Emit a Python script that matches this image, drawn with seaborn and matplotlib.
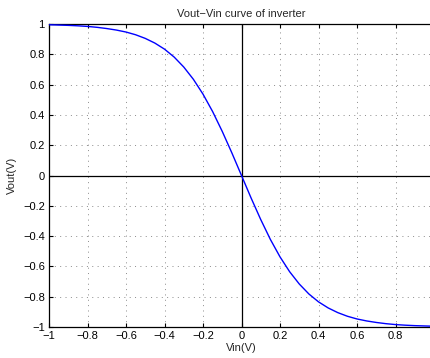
import matplotlib
matplotlib.use("Agg")
import matplotlib.pyplot as plt
import seaborn as sns
import pandas as pd

# Values
vin = [-1.0, -0.95, -0.9, -0.85, -0.8, -0.75, -0.7, -0.65, -0.6, -0.55, -0.5,
       -0.45, -0.4, -0.35, -0.3, -0.25, -0.2, -0.15, -0.1, -0.05, 0.0,
       0.05, 0.1, 0.15, 0.2, 0.25, 0.3, 0.35, 0.4, 0.45, 0.5,
       0.55, 0.6, 0.65, 0.7, 0.75, 0.8, 0.85, 0.9, 0.95, 1.0]
vout = [0.995, 0.993, 0.991, 0.988, 0.984, 0.978, 0.970, 0.960, 0.947, 0.929, 0.905,
        0.874, 0.834, 0.782, 0.716, 0.635, 0.537, 0.422, 0.291, 0.149, 0.0,
        -0.149, -0.291, -0.422, -0.537, -0.635, -0.716, -0.782, -0.834, -0.874, -0.905,
        -0.929, -0.947, -0.960, -0.970, -0.978, -0.984, -0.988, -0.991, -0.993, -0.995]
xticks = [-1, -0.8, -0.6, -0.4, -0.2, 0, 0.2, 0.4, 0.6, 0.8]
yticks = [-1, -0.8, -0.6, -0.4, -0.2, 0, 0.2, 0.4, 0.6, 0.8, 1]

def fmt(v):
    s = ("%g" % v)
    return s.replace("-", "\u2212")

df = pd.DataFrame({"Vin": vin, "Vout": vout})

sns.set_style("white")
plt.rcParams['font.family'] = ['Liberation Sans', 'DejaVu Sans']

fig = plt.figure(figsize=(4.31, 3.58), dpi=100)
W, H = 431, 358
left, right, top, bottom = 49, 434, 24, 327
ax = fig.add_axes([left / W, 1 - bottom / H, (right - left) / W, (bottom - top) / H])

sns.lineplot(data=df, x="Vin", y="Vout", ax=ax, color="#0000ff", linewidth=1.0, zorder=3)

ax.set_xlim(-1, 1)
ax.set_ylim(-1, 1)
ax.set_xticks(xticks)
ax.set_yticks(yticks)
ax.set_xticklabels([fmt(v) for v in xticks], fontsize=8)
ax.set_yticklabels([fmt(v) for v in yticks], fontsize=8)
ax.grid(True, linestyle=(0, (1, 4.5)), color="#8a8a8a", linewidth=0.7)
ax.axhline(0, color="black", linewidth=0.9, zorder=2)
ax.axvline(0, color="black", linewidth=0.9, zorder=2)
ax.tick_params(direction="in", length=3, width=0.8, top=True, right=True,
               bottom=True, left=True, pad=3, colors="black")
for sp in ax.spines.values():
    sp.set_visible(True)
    sp.set_color("black")
    sp.set_linewidth(0.9)

ax.set_xlabel("Vin(V)", fontsize=8, labelpad=1)
ax.set_ylabel("Vout(V)", fontsize=8, labelpad=4)
ax.set_title("Vout\u2212Vin curve of inverter", fontsize=8, pad=5)

fig.savefig("out.png", dpi=100)
